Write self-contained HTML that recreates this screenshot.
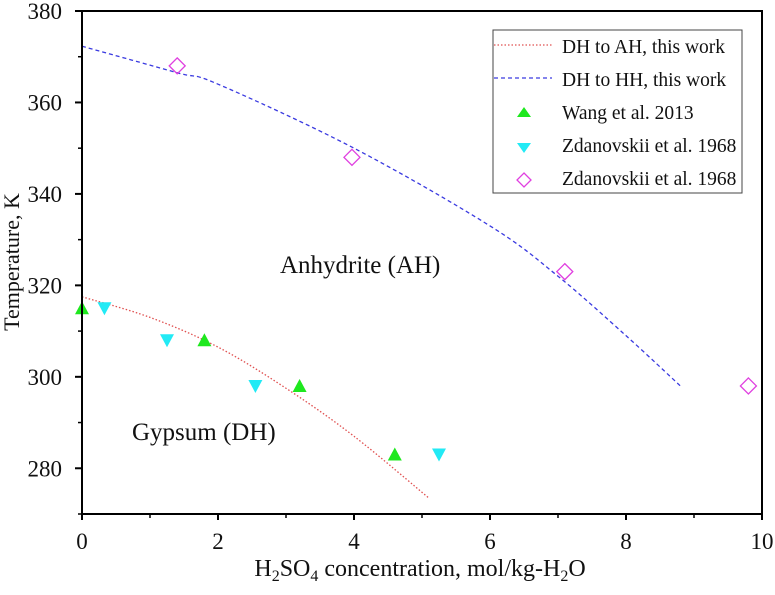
<!DOCTYPE html>
<html><head><meta charset="utf-8"><style>
body{margin:0;background:#fff}
svg text{font-family:"Liberation Serif","DejaVu Serif",serif;fill:#111}
</style></head><body>
<svg id="c" width="775" height="590" font-family="Liberation Serif, serif"></svg>
<script>
const xTicks=[0,2,4,6,8,10];
const yTicks=[280,300,320,340,360,380];
const dhahX=[0,1,2,3,4,5.1];
const dhahY=[317.5,313,306.5,297.5,287,273.5];
const dhhhX=[0,1.4,2,4,6,7,8,8.8];
const dhhhY=[372.3,366.5,364,350,333,322,309,298];
const wangX=[0,1.8,3.2,4.6];
const wangY=[315,308,298,283];
const zdAX=[0.33,1.25,2.55,5.25];
const zdAY=[315,308,298,283];
const zdBX=[1.4,3.97,7.1,9.8];
const zdBY=[368,348,323,298];
const NS='http://www.w3.org/2000/svg';
const svg=document.getElementById('c');
const X0=82,X1=762,Y0=514,Y1=11;
const sx=v=>X0+v*(X1-X0)/10;
const sy=v=>Y0-(v-270)*(Y0-Y1)/110;
function mk(t,a,p){const e=document.createElementNS(NS,t);for(const k in a)e.setAttribute(k,a[k]);(p||svg).appendChild(e);return e;}
function smooth(P){let d='M'+P[0][0]+','+P[0][1];
for(let i=0;i<P.length-1;i++){const p0=P[Math.max(0,i-1)],p1=P[i],p2=P[i+1],p3=P[Math.min(P.length-1,i+2)];
const c1=[p1[0]+(p2[0]-p0[0])/6,p1[1]+(p2[1]-p0[1])/6],c2=[p2[0]-(p3[0]-p1[0])/6,p2[1]-(p3[1]-p1[1])/6];
d+=` C${c1[0]},${c1[1]} ${c2[0]},${c2[1]} ${p2[0]},${p2[1]}`;}return d;}
function line(P,color,dash,name){const e=mk('path',{d:smooth(P),fill:'none',stroke:color,'stroke-width':1.3,'stroke-dasharray':dash});

}
line(dhahX.map((x,i)=>[sx(x),sy(dhahY[i])]),'#e05050','1.5 2','dh-to-ah-curve');
line(dhhhX.map((x,i)=>[sx(x),sy(dhhhY[i])]),'#3a3ae0','4 3','dh-to-hh-curve');
function up(x,y){return `${x-7},${y+6} ${x+7},${y+6} ${x},${y-7}`}
function dn(x,y){return `${x-7},${y-6} ${x+7},${y-6} ${x},${y+7}`}
function di(x,y){return `${x},${y-8} ${x+8},${y} ${x},${y+8} ${x-8},${y}`}
wangX.forEach((x,i)=>{const e=mk('polygon',{points:up(sx(x),sy(wangY[i])),fill:'#1ee81e'});

});
zdAX.forEach((x,i)=>{const e=mk('polygon',{points:dn(sx(x),sy(zdAY[i])),fill:'#22eaf5'});

});
zdBX.forEach((x,i)=>{const e=mk('polygon',{points:di(sx(x),sy(zdBY[i])),fill:'none',stroke:'#e040e0','stroke-width':1.3});

});
mk('rect',{x:X0,y:Y1,width:X1-X0,height:Y0-Y1,fill:'none',stroke:'#000','stroke-width':2});
xTicks.forEach(v=>{mk('line',{x1:sx(v),x2:sx(v),y1:Y0,y2:Y0+6,stroke:'#000','stroke-width':2});
const t=mk('text',{x:sx(v),y:Y0+35,'text-anchor':'middle','font-size':23});t.textContent=v;
});
for(let v=1;v<10;v+=2)mk('line',{x1:sx(v),x2:sx(v),y1:Y0,y2:Y0+4,stroke:'#000','stroke-width':1.5});
yTicks.forEach(v=>{mk('line',{x1:X0-7,x2:X0,y1:sy(v),y2:sy(v),stroke:'#000','stroke-width':2});
const t=mk('text',{x:X0-20,y:sy(v)+8,'text-anchor':'end','font-size':23});t.textContent=v;
});
for(let v=270;v<380;v+=20)mk('line',{x1:X0-4,x2:X0,y1:sy(v),y2:sy(v),stroke:'#000','stroke-width':1.5});
</script>
<svg width="775" height="590" font-family="Liberation Serif, serif" style="position:absolute;left:0;top:0">
<text x="420" y="576" text-anchor="middle" font-size="24">H<tspan font-size="16" dy="5">2</tspan><tspan dy="-5">SO</tspan><tspan font-size="16" dy="5">4</tspan><tspan dy="-5"> concentration, mol/kg-H</tspan><tspan font-size="16" dy="5">2</tspan><tspan dy="-5">O</tspan></text>
<text transform="translate(19,262) rotate(-90)" text-anchor="middle" font-size="22">Temperature, K</text>
<text x="280" y="273" font-size="25">Anhydrite (AH)</text>
<text x="132" y="440" font-size="25">Gypsum (DH)</text>
<g>
<rect x="493" y="30" width="249" height="163" fill="#fff" stroke="#444" stroke-width="1"/>
<line x1="494" x2="552" y1="45" y2="45" stroke="#e05050" stroke-width="1.3" stroke-dasharray="1.5 2"/>
<text x="562" y="53" font-size="19.5">DH to AH, this work</text>
<line x1="494" x2="552" y1="78" y2="78" stroke="#3a3ae0" stroke-width="1.3" stroke-dasharray="4 3"/>
<text x="562" y="86" font-size="19.5">DH to HH, this work</text>
<polygon points="517,117 531,117 524,107" fill="#1ee81e"/>
<text x="562" y="119" font-size="19.5">Wang et al. 2013</text>
<polygon points="517,143 531,143 524,153" fill="#22eaf5"/>
<text x="562" y="152" font-size="19.5">Zdanovskii et al. 1968</text>
<polygon points="524,173 531,180 524,187 517,180" fill="none" stroke="#e040e0" stroke-width="1.3"/>
<text x="562" y="185" font-size="19.5">Zdanovskii et al. 1968</text>
</g>
</svg>
</body></html>
